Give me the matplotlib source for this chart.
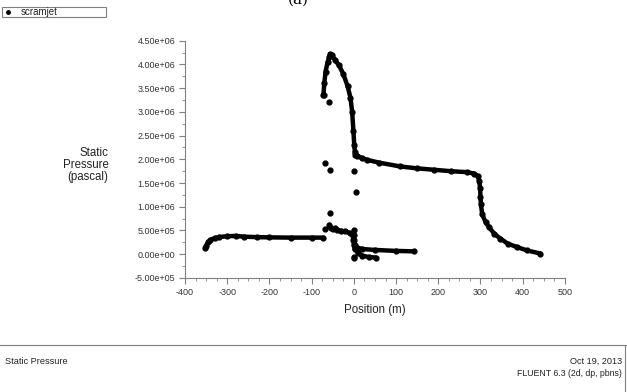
import numpy as np
import matplotlib
matplotlib.use('Agg')
import matplotlib.pyplot as plt
from matplotlib.ticker import MultipleLocator, FuncFormatter
from matplotlib.lines import Line2D
from matplotlib.patches import Rectangle

plt.rcParams['font.family'] = ['Liberation Sans', 'DejaVu Sans']
plt.rcParams['axes.unicode_minus'] = False

# inlet / isolator branch
inlet_x = [-352, -350, -345, -340, -330, -320, -300, -280, -260, -230, -200, -150, -100, -72]
inlet_y = [1.3e5, 1.8e5, 2.5e5, 3.0e5, 3.4e5, 3.6e5, 3.8e5, 3.85e5, 3.7e5, 3.6e5, 3.55e5, 3.5e5, 3.5e5, 3.5e5]

# pressure peak
peak_x = [-72, -70, -67, -62, -56, -52, -45, -35, -25, -15, -8, -4, -1, 1, 3]
peak_y = [3.36e6, 3.6e6, 3.85e6, 4.05e6, 4.22e6, 4.2e6, 4.1e6, 3.98e6, 3.8e6, 3.55e6, 3.3e6, 3.0e6, 2.6e6, 2.3e6, 2.1e6]

# lower combustor branch
comb_x = [-58, -55, -50, -45, -40, -30, -20, -10, -3, -1, 0, 2]
comb_y = [6.2e5, 5.6e5, 5.3e5, 5.5e5, 5.2e5, 4.9e5, 4.8e5, 4.5e5, 4.0e5, 3.0e5, 2.0e5, 1.0e5]

lowa_x = [2, 8, 20, 50, 100, 142]
lowa_y = [2.0e5, 1.4e5, 1.1e5, 9e4, 7e4, 6e4]

lowb_x = [0, 4, 10, 20, 35, 52]
lowb_y = [3.0e5, 1.2e5, 2e4, -3e4, -6e4, -7e4]

# nozzle branch
noz_x = [3, 8, 20, 31, 60, 110, 150, 190, 230, 268, 285, 293, 297, 299, 300, 301, 304, 312, 320, 333, 347, 365, 387, 410, 442]
noz_y = [2.15e6, 2.08e6, 2.02e6, 1.99e6, 1.93e6, 1.85e6, 1.81e6, 1.78e6, 1.75e6, 1.73e6, 1.70e6, 1.65e6, 1.55e6,
         1.4e6, 1.2e6, 1.06e6, 8.4e5, 6.8e5, 5.7e5, 4.3e5, 3.3e5, 2.2e5, 1.5e5, 8e4, 1.4e4]

# isolated points
dot_x = [-69, -57, -56, -69, 0, 4, -59, -70, -59, 0, 0, 0, 0]
dot_y = [1.92e6, 1.78e6, 8.6e5, 5.35e5, 1.76e6, 1.31e6, 3.2e6, 3.36e6, 4.15e6, 5.0e5, 4.0e5, -5e4, -9e4]

fig = plt.figure(figsize=(6.27, 3.92), dpi=100)
ax = fig.add_axes([0.295, 0.291, 0.606, 0.605])

for xs, ys in [(inlet_x, inlet_y), (peak_x, peak_y), (comb_x, comb_y),
               (lowa_x, lowa_y), (lowb_x, lowb_y), (noz_x, noz_y)]:
    ax.plot(xs, ys, color='black', lw=3.2, solid_capstyle='round', solid_joinstyle='round',
            marker='o', ms=3.5, clip_on=False)
ax.plot(dot_x, dot_y, 'o', color='black', ms=3.5, clip_on=False)

ax.set_xlim(-400, 500)
ax.set_ylim(-5e5, 4.5e6)
ax.xaxis.set_major_locator(MultipleLocator(100))
ax.xaxis.set_minor_locator(MultipleLocator(25))
ax.yaxis.set_major_locator(MultipleLocator(5e5))
ax.yaxis.set_minor_locator(MultipleLocator(2.5e5))
ax.yaxis.set_major_formatter(FuncFormatter(lambda v, p: '%.2e' % v))

for s in ['top', 'right']:
    ax.spines[s].set_visible(False)
for s in ['left', 'bottom']:
    ax.spines[s].set_color('#808080')
    ax.spines[s].set_linewidth(0.8)
ax.tick_params(which='major', length=4, color='#808080', labelsize=6.5, labelcolor='#333333', pad=3)
ax.tick_params(which='minor', length=2, color='#808080')

ax.set_xlabel('Position (m)', fontsize=8.3, color='#222222', labelpad=5)
fig.text(0.173, 0.58, 'Static\nPressure\n(pascal)', ha='right', va='center', fontsize=8.3,
         color='#222222', linespacing=1.0)

# legend box
fig.patches.append(Rectangle((2 / 627, 1 - 17 / 392), 104 / 627, 10 / 392, transform=fig.transFigure,
                             fill=False, edgecolor='#808080', lw=0.8))
fig.lines.append(Line2D([8 / 627], [1 - 12 / 392], transform=fig.transFigure, marker='o',
                        color='black', ms=2.5))
fig.text(21 / 627, 1 - 12 / 392, 'scramjet', fontsize=7, va='center', color='#222222')

fig.text(298 / 627, 1.0, '(a)', fontsize=11, family='DejaVu Serif', ha='center', va='center')

# footer
fig.lines.append(Line2D([0, 1], [1 - 345 / 392] * 2, transform=fig.transFigure, color='#808080', lw=0.8))
fig.lines.append(Line2D([625 / 627] * 2, [1 - 345 / 392, 0], transform=fig.transFigure, color='#808080', lw=0.8))
fig.text(5 / 627, 1 - 362 / 392, 'Static Pressure', fontsize=6.6, va='center', color='#222222')
fig.text(622 / 627, 1 - 361 / 392, 'Oct 19, 2013', fontsize=6.6, va='center', ha='right', color='#222222')
fig.text(622 / 627, 1 - 373 / 392, 'FLUENT 6.3 (2d, dp, pbns)', fontsize=6.3, va='center', ha='right', color='#222222')

fig.savefig('out.png', dpi=100)
